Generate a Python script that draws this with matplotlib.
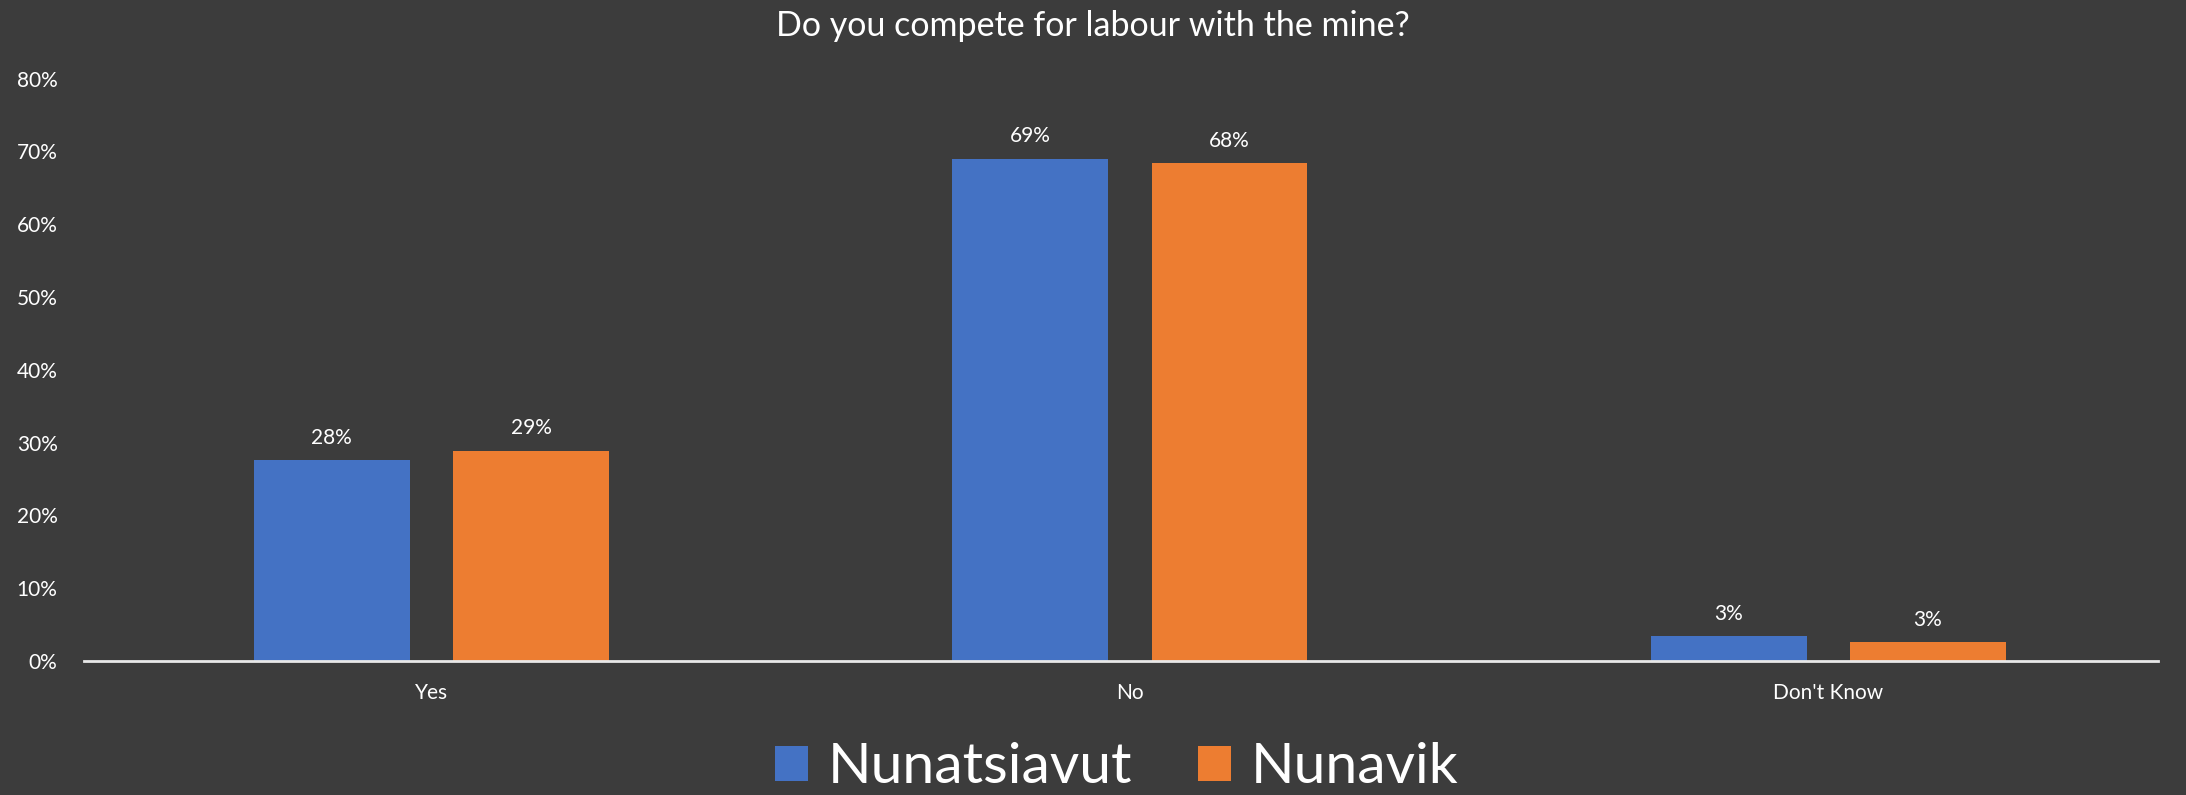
import numpy as np
import matplotlib.pyplot as plt
from matplotlib.ticker import PercentFormatter

categories = ['Yes', 'No', "Don't Know"]
nunatsiavut = [27.6, 69.0, 3.4]
nunavik = [28.9, 68.4, 2.6]
series_names = ['Nunatsiavut', 'Nunavik']
y_ticks = [0, 10, 20, 30, 40, 50, 60, 70, 80]

bg = '#3c3c3c'
blue = '#4472c4'
orange = '#ed7d31'

plt.rcParams['font.family'] = ['Lato', 'DejaVu Sans']

fig = plt.figure(figsize=(21.86, 7.95), dpi=100, facecolor=bg)
ax = fig.add_axes([0.0384, 0.1686, 0.9488, 0.7324], facecolor=bg)

x = np.arange(len(categories))
width = 0.2233
offset = 0.1426
bars1 = ax.bar(x - offset, nunatsiavut, width, color=blue, label=series_names[0])
bars2 = ax.bar(x + offset, nunavik, width, color=orange, label=series_names[1])

# value labels above each bar
for bars, vals in [(bars1, nunatsiavut), (bars2, nunavik)]:
    for b, v in zip(bars, vals):
        ax.annotate('%d%%' % round(v), (b.get_x() + b.get_width() / 2, v),
                    xytext=(0, 9), textcoords='offset points',
                    ha='center', va='bottom', color='white', fontsize=15)

ax.set_xlim(-0.4975, 2.472)
ax.set_ylim(0, 80)
ax.set_yticks(y_ticks)
ax.yaxis.set_major_formatter(PercentFormatter(decimals=0))
ax.set_xticks(x)
ax.set_xticklabels(categories)
ax.tick_params(axis='both', length=0, colors='white', labelsize=15)
ax.tick_params(axis='y', pad=19)
ax.tick_params(axis='x', pad=16)

for s in ['top', 'right', 'left']:
    ax.spines[s].set_visible(False)
ax.spines['bottom'].set_color('#e8e8e8')
ax.spines['bottom'].set_linewidth(2)

fig.text(0.5, 0.967, 'Do you compete for labour with the mine?', ha='center',
         va='center', color='white', fontsize=24.5)

leg = fig.legend(loc='center', bbox_to_anchor=(0.511, 0.034), ncol=2, frameon=False,
                 fontsize=41, handlelength=0.58, handleheight=0.58,
                 handletextpad=0.35, columnspacing=1.15)
for t in leg.get_texts():
    t.set_color('white')

fig.savefig('out.png', dpi=100, facecolor=bg)
